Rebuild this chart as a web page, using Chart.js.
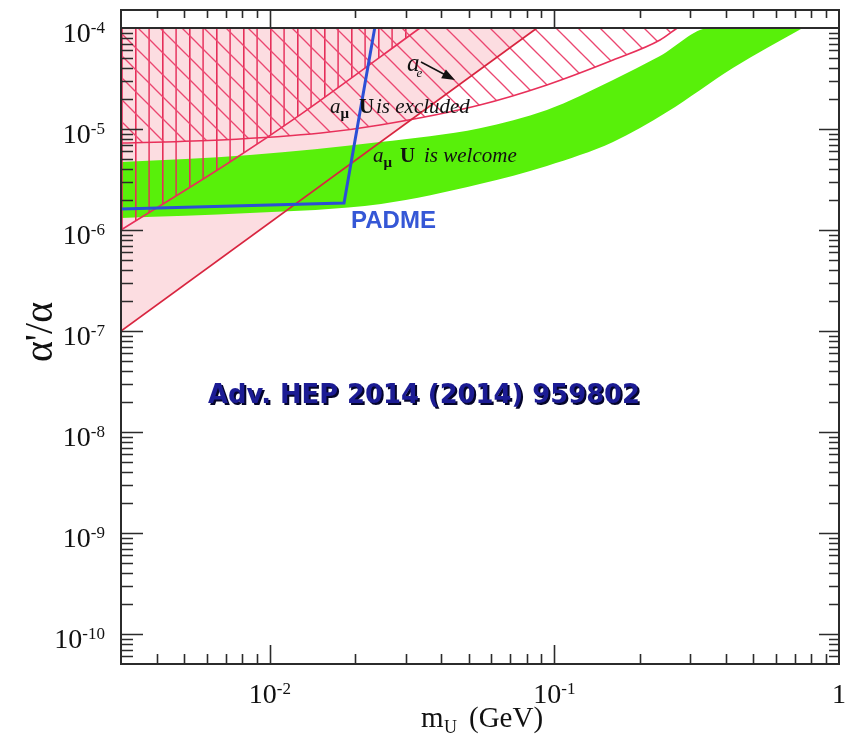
<!DOCTYPE html>
<html>
<head>
<meta charset="utf-8">
<script src="https://cdn.jsdelivr.net/npm/chart.js@4/dist/chart.umd.min.js"></script>
<style>
  html, body { margin: 0; padding: 0; background: #fff; }
  #wrap { width: 848px; height: 740px; }
</style>
</head>
<body>
<div id="wrap"><canvas id="c" width="848" height="740"></canvas></div>
<script>
// ---- Bounds in (m_U [GeV], alpha'/alpha) ----
// electron g-2 bound (region above is excluded)
const aeBoundM = [0.003, 0.00673, 0.01513, 0.02438, 0.0547, 0.0941, 0.1607, 0.235, 0.270];
const aeBoundA = [7.26e-6, 7.78e-6, 9.12e-6, 1.096e-5, 1.73e-5, 2.73e-5, 4.82e-5, 7.6e-5, 1.0e-4];
// muon g-2: U contribution excluded above this line
const amuExclM = [0.003, 0.00724, 0.01277, 0.0337];
const amuExclA = [1.0e-6, 4.71e-6, 1.38e-5, 1.0e-4];
// lower straight bound of the shaded region
const lowerBoundM = [0.003, 0.0869];
const lowerBoundA = [1.0e-7, 1.0e-4];
// muon g-2: band where U explains the discrepancy
const welcomeUpperM = [0.003, 0.00851, 0.02438, 0.0547, 0.0941, 0.1607, 0.235, 0.352, 0.746];
const welcomeUpperA = [4.71e-6, 5.53e-6, 7.43e-6, 1.02e-5, 1.54e-5, 3.05e-5, 5.28e-5, 1.0e-4, 1.0e-4];
const welcomeLowerM = [0.003, 0.00851, 0.0246, 0.0547, 0.0941, 0.1607, 0.2486, 0.4237, 0.746];
const welcomeLowerA = [1.315e-6, 1.47e-6, 1.81e-6, 2.85e-6, 4.31e-6, 7.43e-6, 1.47e-5, 4.02e-5, 1.0e-4];
// PADME projected sensitivity
const padmeM = [0.003, 0.01823, 0.02337];
const padmeA = [1.61e-6, 1.85e-6, 1.0e-4];

// ---- Axes ----
const xRange = [0.003, 1];
const yRange = [5.05e-11, 1.507e-4];
const plotCeiling = 1e-4;
const xMajorTicks = [0.01, 0.1, 1];
const xTickBase = ['10', '10', '1'];
const xTickExp = ['-2', '-1', ''];
const yMajorTicks = [1e-10, 1e-9, 1e-8, 1e-7, 1e-6, 1e-5, 1e-4];
const yTickExp = ['-10', '-9', '-8', '-7', '-6', '-5', '-4'];

const pts = (ms, as) => ms.map((m, i) => ({ x: m, y: as[i] }));

// hatch patterns
function makePattern(w, h, draw) {
  const c = document.createElement('canvas');
  c.width = w; c.height = h;
  const g = c.getContext('2d');
  draw(g, w, h);
  return g.createPattern(c, 'repeat');
}
const cvs = document.getElementById('c');
const vertHatch = makePattern(27, 4, (g) => {
  g.fillStyle = '#e52f5a';
  g.fillRect(0, 0, 1.6, 4);
  g.globalAlpha = 0.9;
  g.fillRect(13.3, 0, 1.6, 4);
});
const diagHatch = makePattern(22, 22, (g, w, h) => {
  g.strokeStyle = '#eb4670';
  g.lineWidth = 1.3;
  for (const k of [-w, 0, w]) {
    g.beginPath();
    g.moveTo(k - 2, -2);
    g.lineTo(k + w + 2, h + 2);
    g.stroke();
  }
});

const toCeiling = { value: plotCeiling };
const smooth = { cubicInterpolationMode: 'monotone' };

const datasets = [
  { label: 'shaded', data: pts(lowerBoundM, lowerBoundA), fill: toCeiling,
    backgroundColor: 'rgb(252,221,225)', borderWidth: 0, order: 10 },
  { label: 'a_mu welcome', data: pts(welcomeUpperM, welcomeUpperA), fill: '+1',
    backgroundColor: '#58f00a', borderWidth: 0, order: 9, ...smooth },
  { label: 'a_mu welcome lower', data: pts(welcomeLowerM, welcomeLowerA), fill: false,
    borderWidth: 0, order: 9, ...smooth },
  { label: 'a_mu excluded hatch', data: pts(amuExclM, amuExclA), fill: toCeiling,
    backgroundColor: vertHatch, borderWidth: 0, order: 8, ...smooth },
  { label: 'a_e hatch', data: pts(aeBoundM, aeBoundA), fill: toCeiling,
    backgroundColor: diagHatch, borderWidth: 0, order: 7, ...smooth },
  { label: 'a_e', data: pts(aeBoundM, aeBoundA), borderColor: '#e8305a', borderWidth: 1.6,
    fill: false, order: 6, ...smooth },
  { label: 'a_mu excluded', data: pts(amuExclM, amuExclA), borderColor: '#e8305a', borderWidth: 1.6,
    fill: false, order: 5, ...smooth },
  { label: 'lower', data: pts(lowerBoundM, lowerBoundA), borderColor: '#d8253f', borderWidth: 1.6,
    fill: false, order: 4 },
  { label: 'PADME', data: pts(padmeM, padmeA), borderColor: '#2c4fd6', borderWidth: 3,
    fill: false, order: 1 }
];

const SERIF = '"Liberation Serif", "DejaVu Serif", serif';

function drawRun(ctx, parts, x, y) {
  let cx = x;
  for (const p of parts) {
    ctx.font = p.font;
    ctx.fillStyle = p.color || '#111';
    if (p.at !== undefined) cx = p.at;
    ctx.fillText(p.t, cx, y + (p.dy || 0));
    cx += ctx.measureText(p.t).width + (p.gap || 0);
  }
  return cx;
}
function runWidth(ctx, parts) {
  let w = 0;
  for (const p of parts) { ctx.font = p.font; w += ctx.measureText(p.t).width + (p.gap || 0); }
  return w;
}

function tickValues(lo, hi) {
  const out = [];
  for (let d = Math.floor(Math.log10(lo)); d <= Math.ceil(Math.log10(hi)); d++) {
    for (let k = 1; k <= 9; k++) {
      const v = k * Math.pow(10, d);
      if (v > lo * 1.0001 && v < hi * 0.9999) out.push({ v, major: k === 1 });
    }
  }
  return out;
}

const decorations = {
  id: 'decorations',
  afterDatasetsDraw(chart) {
    const { ctx, chartArea: a, scales: { x, y } } = chart;
    const yc = y.getPixelForValue(plotCeiling);
    ctx.save();
    // frame and ceiling line
    ctx.strokeStyle = '#2b2b2b';
    ctx.lineWidth = 2;
    ctx.strokeRect(a.left, a.top, a.right - a.left, a.bottom - a.top);
    ctx.beginPath(); ctx.moveTo(a.left, yc); ctx.lineTo(a.right, yc); ctx.stroke();

    // inward ticks
    ctx.lineWidth = 1.6;
    ctx.beginPath();
    for (const t of tickValues(yRange[0], plotCeiling)) {
      const py = Math.round(y.getPixelForValue(t.v)) + 0.5;
      ctx.moveTo(a.left, py); ctx.lineTo(a.left + (t.major ? 22 : 12), py);
      ctx.moveTo(a.right, py); ctx.lineTo(a.right - (t.major ? 20 : 10), py);
    }
    for (const t of tickValues(xRange[0], xRange[1])) {
      const px = Math.round(x.getPixelForValue(t.v)) + 0.5;
      ctx.moveTo(px, a.bottom); ctx.lineTo(px, a.bottom - (t.major ? 19 : 10));
      ctx.moveTo(px, a.top); ctx.lineTo(px, t.major ? yc : a.top + 8);
    }
    ctx.stroke();

    // tick labels
    ctx.textBaseline = 'alphabetic';
    ctx.textAlign = 'left';
    const mainFont = '28px ' + SERIF, supFont = '17px ' + SERIF;
    yMajorTicks.forEach((v, i) => {
      const py = y.getPixelForValue(v);
      const parts = [{ t: '10', font: mainFont }, { t: yTickExp[i], font: supFont, dy: -9 }];
      const w = runWidth(ctx, parts);
      drawRun(ctx, parts, 105 - w, py + 14);
    });
    xMajorTicks.forEach((v, i) => {
      const px = x.getPixelForValue(v);
      const parts = [{ t: xTickBase[i], font: mainFont }];
      if (xTickExp[i]) parts.push({ t: xTickExp[i], font: supFont, dy: -9 });
      const w = runWidth(ctx, parts);
      drawRun(ctx, parts, px - w / 2, 703);
    });

    // axis titles
    drawRun(ctx, [
      { t: 'm', font: '29px ' + SERIF, at: 421 },
      { t: 'U', font: '18px ' + SERIF, dy: 6, at: 444 },
      { t: '(GeV)', font: '29px ' + SERIF, at: 469 }
    ], 421, 727);
    ctx.save();
    ctx.translate(41, 332);
    ctx.rotate(-Math.PI / 2);
    ctx.font = '40px ' + SERIF;
    ctx.fillStyle = '#111';
    ctx.textAlign = 'center';
    ctx.textBaseline = 'middle';
    ctx.fillText("\u03B1'/\u03B1", 0, 0);
    ctx.restore();

    // region annotations
    const it = 'italic 21px ' + SERIF, bd = 'bold 21px ' + SERIF, sub = 'bold 15px ' + SERIF;
    drawRun(ctx, [
      { t: 'a', font: it }, { t: '\u03BC', font: sub, dy: 5 },
      { t: 'U', font: bd, at: 359 }, { t: 'is excluded', font: it, at: 376 }
    ], 330, 113);
    drawRun(ctx, [
      { t: 'a', font: it }, { t: '\u03BC', font: sub, dy: 5 },
      { t: 'U', font: bd, at: 400 }, { t: 'is welcome', font: it, at: 424 }
    ], 373, 162);
    drawRun(ctx, [
      { t: 'a', font: 'italic 25px ' + SERIF, gap: -3 }, { t: 'e', font: 'italic 13px ' + SERIF, dy: 6 }
    ], 407, 71);
    // arrow from the a_e label
    ctx.strokeStyle = '#111'; ctx.fillStyle = '#111'; ctx.lineWidth = 1.5;
    const ax0 = 421, ay0 = 62, ax1 = 455, ay1 = 80;
    const ang = Math.atan2(ay1 - ay0, ax1 - ax0);
    ctx.beginPath(); ctx.moveTo(ax0, ay0); ctx.lineTo(ax1 - 8 * Math.cos(ang), ay1 - 8 * Math.sin(ang)); ctx.stroke();
    ctx.beginPath();
    ctx.moveTo(ax1, ay1);
    ctx.lineTo(ax1 - 13 * Math.cos(ang) + 5 * Math.sin(ang), ay1 - 13 * Math.sin(ang) - 5 * Math.cos(ang));
    ctx.lineTo(ax1 - 13 * Math.cos(ang) - 5 * Math.sin(ang), ay1 - 13 * Math.sin(ang) + 5 * Math.cos(ang));
    ctx.closePath(); ctx.fill();

    drawRun(ctx, [{ t: 'PADME', font: 'bold 24px "Liberation Sans", Arial, sans-serif', color: '#3557d6' }], 351, 228);

    // reference
    const refText = 'Adv. HEP 2014 (2014) 959802';
    ctx.font = 'bold 26px "DejaVu Sans", sans-serif';
    const rw = ctx.measureText(refText).width;
    ctx.save();
    ctx.translate(208, 403);
    ctx.scale(432 / rw, 1);
    ctx.fillStyle = '#05052a';
    ctx.fillText(refText, 2, 2);
    ctx.fillStyle = '#1c1c94';
    ctx.fillText(refText, 0, 0);
    ctx.restore();

    ctx.restore();
  }
};

new Chart(cvs, {
  type: 'line',
  data: { datasets },
  options: {
    responsive: false,
    animation: false,
    events: [],
    layout: { padding: { left: 121, right: 9, top: 10, bottom: 76 } },
    scales: {
      x: { type: 'logarithmic', min: xRange[0], max: xRange[1], display: false },
      y: { type: 'logarithmic', min: yRange[0], max: yRange[1], display: false }
    },
    elements: { point: { radius: 0 }, line: { tension: 0 } },
    plugins: { legend: { display: false }, tooltip: { enabled: false } }
  },
  plugins: [decorations]
});
</script>
</body>
</html>
